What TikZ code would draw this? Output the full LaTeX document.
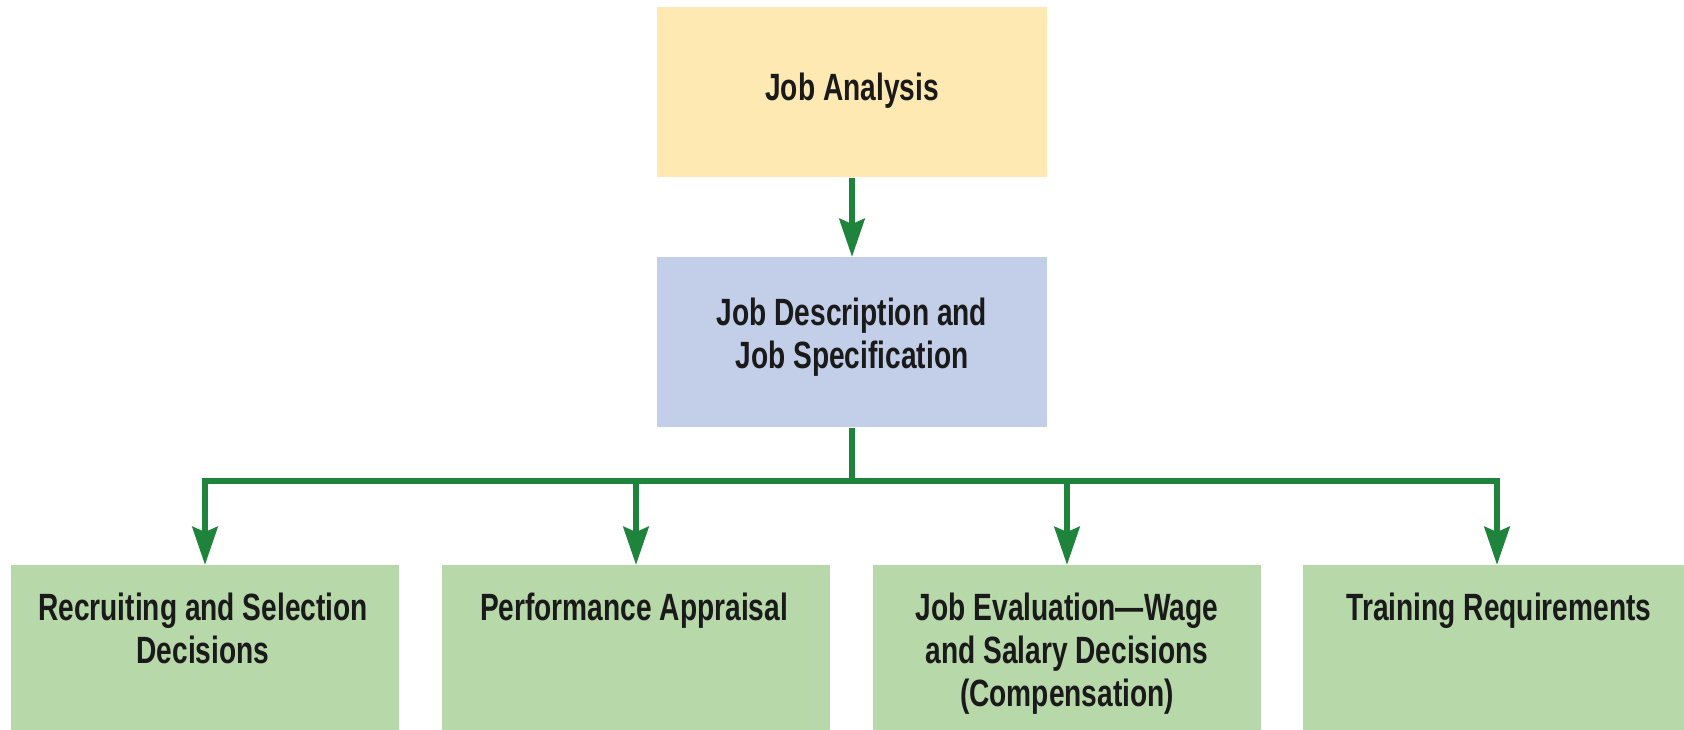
\documentclass[tikz,border=0pt]{standalone}
\usepackage{fontspec}
\newfontfamily\boxfont{Liberation Sans}[FakeStretch=0.74]
\usetikzlibrary{arrows.meta}
\definecolor{jayellow}{HTML}{FDE9B1}
\definecolor{jablue}{HTML}{C3CEE8}
\definecolor{jagreen}{HTML}{B7D8A9}
\definecolor{jaarrow}{HTML}{1F843B}
\definecolor{jatext}{HTML}{1A1A1A}
\tikzset{
  boxbase/.style={rectangle, inner sep=0pt, draw=none},
  topbox/.style={boxbase, fill=jayellow, minimum width=195pt, minimum height=85pt, anchor=north},
  midbox/.style={boxbase, fill=jablue, minimum width=195pt, minimum height=85pt, anchor=north},
  lowbox/.style={boxbase, fill=jagreen, minimum width=194pt, minimum height=92pt, anchor=north},
  boxtext/.style={inner sep=0pt, align=center, anchor=north, text=jatext,
    font=\boxfont\bfseries\fontsize{19}{21.5}\selectfont},
  conn/.style={draw=jaarrow, line width=3.25pt, line join=miter},
  arr/.style={conn, -{Stealth[length=19pt, width=12.5pt, inset=2.5pt]}}
}
\begin{document}
\begin{tikzpicture}[x=0.5pt, y=-0.5pt]
\useasboundingbox (0,0) rectangle (1684,729);
\clip (0,0) rectangle (1684,729);
% boxes
\node[topbox] (ja) at (852,7) {};
\node[midbox] (jd) at (852,257) {};
\node[lowbox] (b1) at (205,565) {};
\node[lowbox] (b2) at (636,565) {};
\node[lowbox] (b3) at (1067,565) {};
\node[lowbox] (b4) at (1497,565) {};
% texts
\node[boxtext] (tja) at (852,73) {Job Analysis};
\node[boxtext] (tjd) at (852,298) {Job Description and\\Job Specification};
\node[boxtext] (t1) at (203,593) {Recruiting and Selection\\Decisions};
\node[boxtext] (t2) at (634,593) {Performance Appraisal};
\node[boxtext] (t3) at (1067,593) {Job Evaluation—Wage\\and Salary Decisions\\(Compensation)};
\node[boxtext] (t4) at (1499,593) {Training Requirements};
% connectors
\coordinate (bus) at (852,481);
\draw[arr] (ja.south) -- (jd.north);
\draw[conn] (jd.south) -- (bus);
\draw[arr] (bus) -| (b1.north);
\draw[arr] (bus) -| (b2.north);
\draw[arr] (bus) -| (b3.north);
\draw[arr] (bus) -| (b4.north);
\end{tikzpicture}
\end{document}
